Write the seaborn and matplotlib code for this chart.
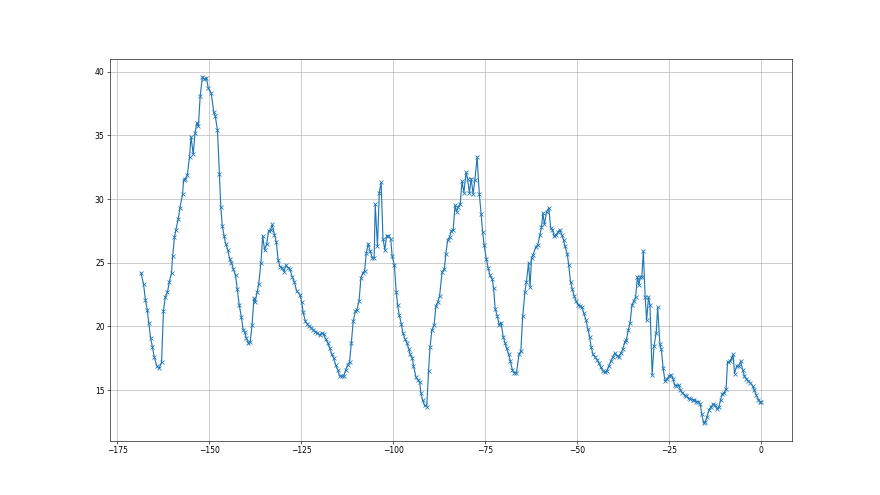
import pandas as pd
import seaborn as sns
import matplotlib.pyplot as plt

# hours before now
hours = [
    -168.6, -167.9, -167.4, -166.9, -166.5, -166.0, -165.5, -165.0, -164.3, -163.7,
    -163.0, -162.5, -162.0, -161.4, -160.9, -160.3, -160.0, -159.5, -159.1, -158.5,
    -158.0, -157.3, -157.0, -156.5, -156.0, -155.4, -155.0, -154.4, -153.9, -153.4,
    -153.0, -152.5, -151.9, -151.4, -150.8, -150.3, -149.5, -148.8,
    -148.4, -147.8, -147.3, -146.9, -146.5, -146.0, -145.6, -145.0, -144.5, -144.0,
    -143.5, -142.9, -142.4, -141.9, -141.3, -140.8, -140.4, -140.0, -139.4, -138.9,
    -138.4, -137.9, -137.6, -137.0, -136.6, -136.0, -135.5, -135.0, -134.4, -133.9,
    -133.3, -132.9, -132.3, -131.8, -131.3, -130.8, -130.2, -129.7, -129.2, -128.6,
    -128.1,
    -127.5, -126.9, -126.3, -125.4, -124.9, -124.5, -123.9, -123.4, -122.8, -122.3,
    -121.7, -121.2, -120.7, -120.0, -119.5, -118.9, -118.4, -117.8, -117.3, -116.7,
    -116.2, -115.7, -115.1, -114.6, -114.0, -113.5, -112.9, -112.4, -111.9, -111.4,
    -110.9, -110.3, -109.9, -109.3, -108.8, -108.3,
    -107.8, -107.3, -106.8, -106.3, -105.7, -105.2, -104.9, -104.3, -103.8, -103.3,
    -102.8, -102.3, -101.8, -101.3, -100.7, -100.3, -99.7, -99.2, -98.8, -98.4,
    -97.8, -97.4, -96.8, -96.3, -95.8, -95.4, -94.8, -94.5, -93.8, -93.3,
    -92.8, -92.5, -92.0, -91.5, -90.9, -90.4, -90.0, -89.5, -88.9, -88.4,
    -87.9, -87.4,
    -86.7, -86.1, -85.7, -85.2, -84.7, -84.2, -83.7, -83.2, -82.8, -82.3,
    -81.8, -81.3, -80.8, -80.2, -79.8, -79.3, -78.8, -78.3, -77.8, -77.2,
    -76.6, -76.1, -75.7, -75.3, -74.7, -74.2, -73.7, -73.1, -72.7, -72.3,
    -71.7, -71.2, -70.7, -70.1, -69.6, -69.2, -68.6, -68.2, -67.6, -67.1,
    -66.5,
    -65.8, -65.3, -64.8, -64.2, -63.8, -63.2, -62.8, -62.4, -62.0, -61.3,
    -60.7, -60.1, -59.7, -59.3, -58.9, -58.3, -57.7, -57.2, -56.7, -56.3,
    -55.7, -55.2, -54.7, -54.2, -53.7, -53.3, -52.7, -52.3, -51.8, -51.3,
    -50.8, -50.3, -49.7, -49.2, -48.7, -48.2, -47.6, -47.1, -46.6,
    -46.2, -45.7, -45.1, -44.6, -44.0, -43.6, -43.0, -42.5, -41.9, -41.4,
    -40.8, -40.3, -39.8, -39.2, -38.7, -38.1, -37.6, -37.0, -36.6, -36.1,
    -35.6, -35.1, -34.6, -34.1, -33.6, -33.2, -32.8, -32.4, -32.0, -31.5,
    -31.1, -30.6, -30.2, -29.6, -29.1, -28.5, -28.1, -27.5, -27.1, -26.6,
    -26.1, -25.5, -25.0, -24.5, -23.9, -23.5, -23.0, -22.4, -21.9, -21.4,
    -20.8, -20.3, -19.7, -19.2, -18.6, -18.1, -17.6, -17.0, -16.5, -16.1,
    -15.6, -15.1, -14.7, -14.1, -13.6, -13.0, -12.5, -12.0, -11.4, -11.0,
    -10.5, -10.0, -9.5, -9.1, -8.5, -8.0, -7.6, -7.2, -6.6, -6.1,
    -5.5, -5.0, -4.5, -4.0, -3.4, -2.9, -2.3, -1.8, -1.3, -0.7,
    -0.3, 0.0,
]

temps = [
    24.2, 23.3, 22.1, 21.3, 20.3, 19.1, 18.4, 17.6, 16.9, 16.7,
    17.2, 21.2, 22.3, 22.7, 23.5, 24.2, 25.5, 27.0, 27.6, 28.4,
    29.3, 30.4, 31.5, 31.6, 31.9, 33.3, 34.9, 33.5, 35.2, 36.0,
    35.7, 38.1, 39.6, 39.4, 39.5, 38.7, 38.3, 36.8,
    36.5, 35.4, 32.0, 29.4, 27.9, 27.1, 26.5, 26.0, 25.3, 25.0,
    24.5, 24.0, 22.9, 21.7, 20.7, 19.7, 19.6, 19.1, 18.7, 18.8,
    20.1, 22.2, 21.9, 22.7, 23.3, 25.0, 27.1, 26.0, 26.5, 27.5,
    27.6, 28.0, 27.2, 26.6, 25.2, 24.7, 24.6, 24.3, 24.8, 24.6,
    24.5,
    23.9, 23.5, 22.8, 22.5, 21.9, 21.1, 20.4, 20.2, 20.0, 19.9,
    19.7, 19.6, 19.5, 19.3, 19.5, 19.4, 19.0, 18.7, 18.3, 17.8,
    17.5, 17.0, 16.6, 16.1, 16.1, 16.1, 16.6, 17.0, 17.2, 18.7,
    20.4, 21.2, 21.3, 22.0, 23.8, 24.2,
    24.35, 25.8, 26.5, 25.9, 25.4, 25.4, 29.6, 26.3, 30.5, 31.3,
    26.9, 26.0, 27.1, 27.1, 26.9, 25.5, 24.8, 22.7, 21.7, 20.9,
    20.2, 19.5, 19.0, 18.7, 18.25, 17.8, 17.5, 16.9, 16.0, 15.8,
    15.6, 14.8, 14.2, 13.8, 13.7, 16.5, 18.4, 19.7, 20.1, 21.6,
    21.9, 22.4,
    24.3, 24.5, 25.7, 26.8, 27.0, 27.5, 27.6, 29.5, 29.0, 29.4,
    29.6, 31.4, 30.5, 32.1, 31.6, 30.5, 31.6, 30.4, 31.5, 33.3,
    30.4, 28.8, 27.4, 26.4, 25.3, 24.6, 24.0, 23.7, 23.0, 21.4,
    20.8, 20.1, 20.3, 19.2, 18.7, 18.3, 17.8, 17.3, 16.6, 16.35,
    16.35,
    17.8, 18.1, 20.8, 22.7, 23.5, 25.0, 23.1, 25.4, 25.6, 26.2,
    26.4, 27.2, 27.8, 28.9, 28.0, 29.0, 29.3, 27.75, 27.6, 27.1,
    27.2, 27.4, 27.6, 27.2, 26.8, 26.3, 25.7, 24.85, 23.5, 22.9,
    22.4, 22.0, 21.7, 21.6, 21.5, 21.05, 20.5, 19.8, 19.2,
    18.4, 17.8, 17.6, 17.4, 17.1, 16.8, 16.5, 16.4, 16.5, 16.9,
    17.3, 17.6, 17.9, 17.7, 17.6, 17.9, 18.2, 18.8, 18.95, 19.7,
    20.3, 21.65, 22.0, 22.3, 23.9, 23.25, 23.9, 23.9, 25.9, 22.3,
    20.5, 22.3, 21.7, 16.2, 18.45, 19.5, 21.5, 18.6, 18.2, 16.7,
    15.7, 15.9, 16.1, 16.2, 15.9, 15.4, 15.35, 15.4, 15.0, 14.8,
    14.6, 14.5, 14.35, 14.3, 14.25, 14.25, 14.1, 14.1, 13.9, 13.1,
    12.4, 12.5, 12.9, 13.45, 13.7, 13.9, 13.85, 13.5, 13.7, 14.25,
    14.7, 14.8, 15.1, 17.2, 17.25, 17.5, 17.8, 16.3, 16.9, 16.9,
    17.25, 16.6, 16.1, 15.9, 15.7, 15.55, 15.35, 15.0, 14.6, 14.25,
    14.05, 14.05,
]

df = pd.DataFrame({"hours": hours, "temp": temps})

fig, ax = plt.subplots(figsize=(16, 9), dpi=55)
sns.lineplot(
    data=df,
    x="hours",
    y="temp",
    marker="x",
    color="#1f77b4",
    markeredgecolor="#1f77b4",
    markeredgewidth=1.0,
    linewidth=1.5,
    estimator=None,
    sort=False,
    ax=ax,
)
ax.set_xlabel("")
ax.set_ylabel("")
ax.grid(True)

fig.savefig("out.png", dpi=55)
